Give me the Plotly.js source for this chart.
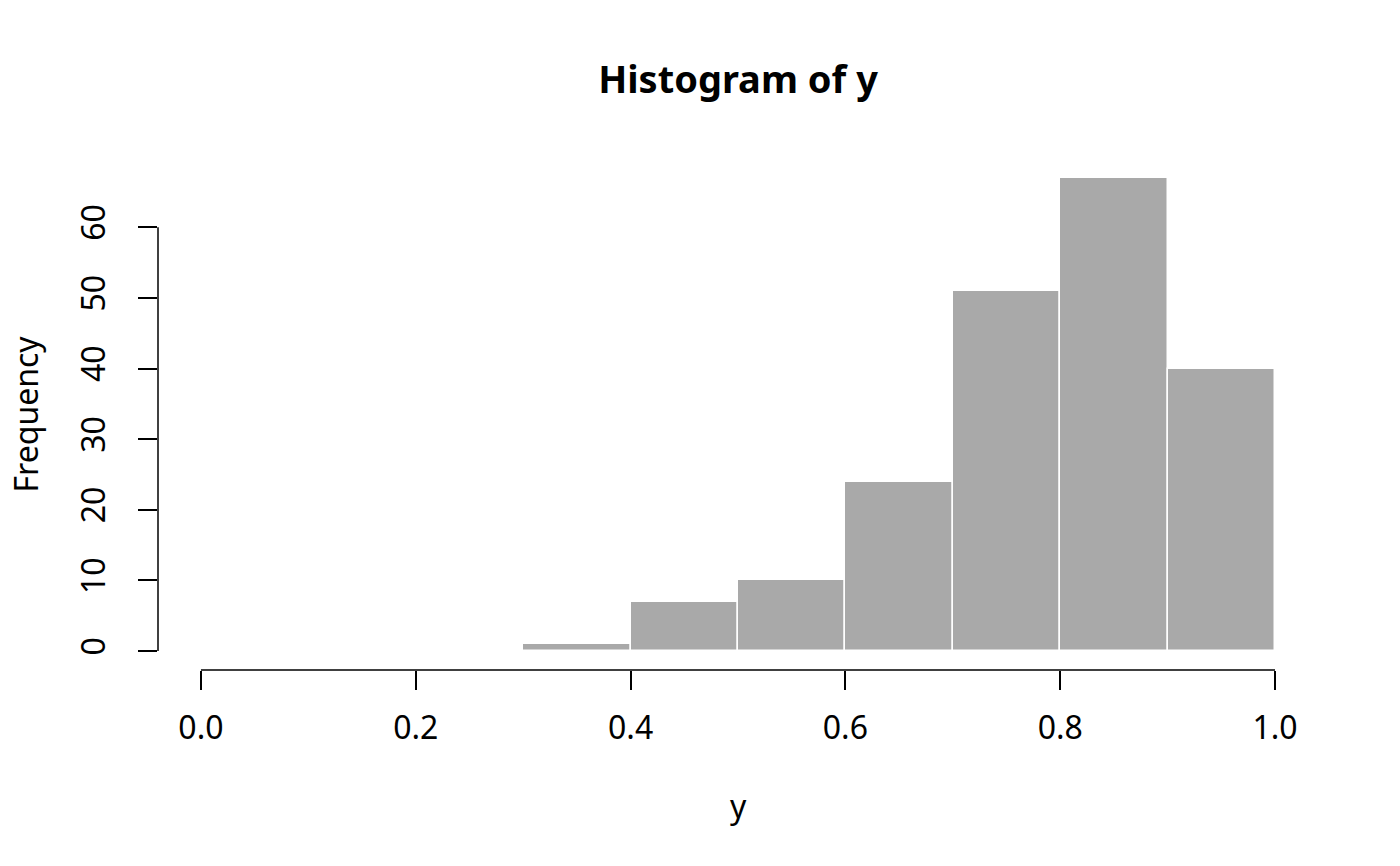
<!DOCTYPE html>
<html>
<head>
<meta charset="utf-8">
<script src="https://cdn.plot.ly/plotly-3.0.1.min.js"></script>
<style>
  html, body { margin: 0; padding: 0; background: #ffffff; }
  #main-screen { width: 1400px; height: 866px; }
</style>
</head>
<body>
<div id="main-screen"></div>
<script>
// ------------------------------------------------------------------------------
// DATA

// left edges of the histogram bins and their counts
const bin_starts = [0.3, 0.4, 0.5, 0.6, 0.7, 0.8, 0.9];
const bin_counts = [1, 7, 10, 24, 51, 67, 40];
const bin_width  = 0.1;

const x_ticks = [0.0, 0.2, 0.4, 0.6, 0.8, 1.0];
const x_tick_labels = ['0.0', '0.2', '0.4', '0.6', '0.8', '1.0'];
const y_ticks = [0, 10, 20, 30, 40, 50, 60];

// ------------------------------------------------------------------------------
// PARAMETERS

const font_family = '"Noto Sans", "Open Sans", sans-serif';
const axis_color  = '#000000';
const axis_width  = 1.5;
const label_size  = 32;

const displayConfig = {
    displayModeBar: false,
    responsive: false
};

const bars = {
    type: 'bar',
    x: bin_starts,
    y: bin_counts,
    width: bin_starts.map(() => bin_width),
    offset: 0,
    marker: {
        color: '#a9a9a9',
        line: { color: '#ffffff', width: 1.5 }
    },
    hoverinfo: 'none'
};

// R pads the data range by 4% on each side
const x_lim = [0, 1];
const y_lim = [0, Math.max(...bin_counts)];
const x_pad = (x_lim[1] - x_lim[0]) * 0.04;
const y_pad = (y_lim[1] - y_lim[0]) * 0.04;

const layout = {
    width : 1400,
    height: 866,
    showlegend: false,
    dragmode: false,
    paper_bgcolor: '#ffffff',
    plot_bgcolor : '#ffffff',
    font: { family: font_family, color: '#000000', size: label_size },
    margin: { l: 158, r: 82, t: 159, b: 196, pad: 0 },
    bargap: 0,
    title: {
        text: '<b>Histogram of y</b>',
        font: { family: font_family, size: 38, color: '#000000' },
        x: 0.5,
        xref: 'paper',
        xanchor: 'center',
        y: 1 - 80 / 866,
        yref: 'container',
        yanchor: 'middle'
    },
    xaxis: {
        range: [x_lim[0] - x_pad, x_lim[1] + x_pad],
        autorange: false,
        showgrid: false,
        zeroline: false,
        showline: false,
        ticks: 'outside',
        ticklen: 19,
        tickwidth: axis_width,
        tickcolor: axis_color,
        tickvals: x_ticks,
        ticktext: x_tick_labels,
        ticklabelstandoff: 11,
        tickfont: { size: label_size }
    },
    yaxis: {
        range: [y_lim[0] - y_pad, y_lim[1] + y_pad],
        autorange: false,
        showgrid: false,
        zeroline: false,
        showline: false,
        ticks: 'outside',
        ticklen: 19,
        tickwidth: axis_width,
        tickcolor: axis_color,
        tickvals: y_ticks,
        tickangle: -90,
        ticklabelstandoff: 20,
        tickfont: { size: label_size }
    },
    shapes: [
        {   // x axis line, from first to last tick
            type: 'line',
            xref: 'x', yref: 'paper',
            x0: x_ticks[0], x1: x_ticks[x_ticks.length - 1],
            y0: 0, y1: 0,
            line: { color: axis_color, width: axis_width }
        },
        {   // y axis line, from first to last tick
            type: 'line',
            xref: 'paper', yref: 'y',
            x0: 0, x1: 0,
            y0: y_ticks[0], y1: y_ticks[y_ticks.length - 1],
            line: { color: axis_color, width: axis_width }
        }
    ],
    annotations: [
        {
            text: 'y',
            xref: 'paper', yref: 'paper',
            x: 0.5, y: 0,
            xanchor: 'center', yanchor: 'middle',
            yshift: -135,
            showarrow: false,
            font: { size: label_size }
        },
        {
            text: 'Frequency',
            xref: 'paper', yref: 'paper',
            x: 0, y: 0.5,
            xanchor: 'center', yanchor: 'middle',
            xshift: -133,
            textangle: -90,
            showarrow: false,
            font: { size: label_size }
        }
    ]
};

Plotly.newPlot('main-screen', [bars], layout, displayConfig);
</script>
</body>
</html>
